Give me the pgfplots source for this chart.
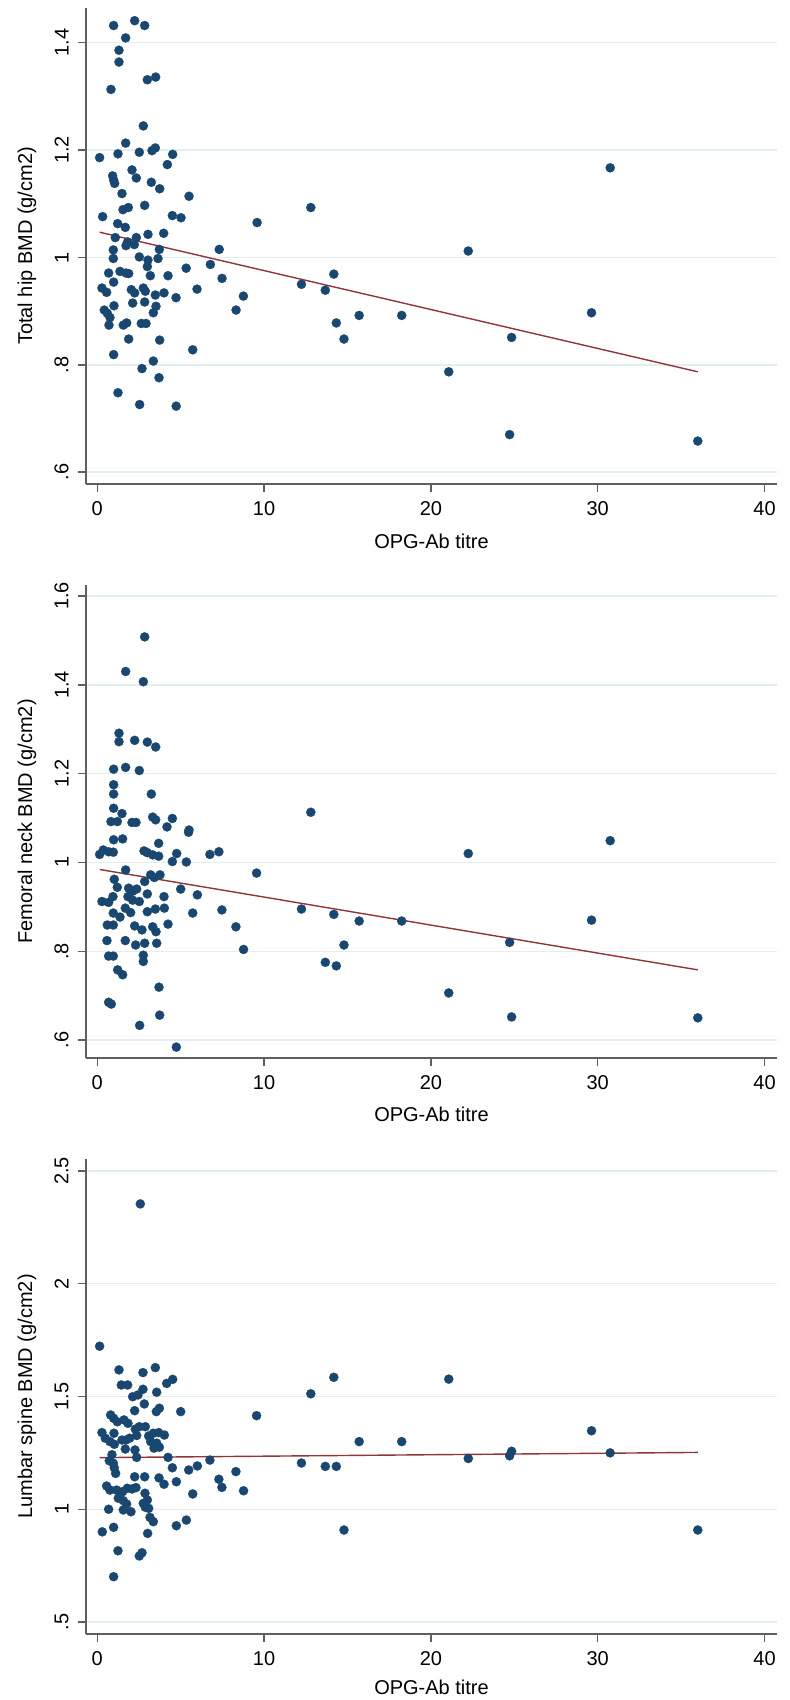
\documentclass[border=0pt]{standalone}
\usepackage{fontspec}
\setmainfont{Liberation Sans}
\usepackage{pgfplots}
\pgfplotsset{compat=1.18}
\definecolor{stnavy}{RGB}{26,71,111}
\definecolor{stmaroon}{RGB}{144,53,59}
\definecolor{stgrid}{RGB}{228,238,240}
\definecolor{staxis}{RGB}{95,95,95}
\pgfplotsset{
  stata/.style={
    scale only axis, width=345.5pt,
    xmin=-0.677, xmax=40.75,
    axis lines=left,
    axis line style={-, staxis, line width=0.7pt},
    tick style={staxis, line width=0.7pt},
    tick align=outside, major tick length=4pt,
    xtick={0,10,20,30,40},
    xticklabels={\textnormal{0},\textnormal{10},\textnormal{20},\textnormal{30},\textnormal{40}},
    /pgf/number format/assume math mode=true,
    ymajorgrids, grid style={stgrid, line width=0.7pt},
    tick label style={font=\fontsize{10}{12}\selectfont, inner sep=0pt, text=black},
    label style={font=\fontsize{10}{12}\selectfont},
    yticklabel style={rotate=90, anchor=south},
    xticklabel style={anchor=north},
    ticklabel shift=4.5pt,
    xlabel={OPG-Ab titre},
    xlabel style={at={(axis description cs:0.5,-0.12)}, anchor=center},
    ylabel style={at={(axis description cs:-0.0854,0.5)}, anchor=center},
  },
  dots/.style={only marks, mark=*, mark size=2.3pt, mark options={fill=stnavy, draw=stnavy, line width=0.1pt}},
  fit/.style={no marks, stmaroon, line width=0.7pt},
}
\begin{document}
\begin{tikzpicture}
\useasboundingbox (0,0) rectangle (395pt,-850pt);
% Panel 1
\begin{axis}[stata, at={(43pt,-242pt)}, anchor=south west, height=238pt,
  ymin=0.578, ymax=1.4647,
  ytick={0.6,0.8,1,1.2,1.4},
  yticklabels={\textnormal{.6},\textnormal{.8},\textnormal{1},\textnormal{1.2},\textnormal{1.4}},
  ylabel={Total hip BMD (g/cm2)}]
\addplot[dots] coordinates {
(0.98,1.432) (2.24,1.441) (2.84,1.432) (1.70,1.409) (1.30,1.386) (1.30,1.364)
(3.00,1.331) (3.50,1.336) (0.82,1.313) (2.76,1.245) (0.14,1.186) (1.24,1.193)
(1.70,1.213) (2.52,1.196) (3.28,1.199) (3.48,1.204) (4.52,1.192) (4.20,1.173)
(2.08,1.163) (2.34,1.148) (0.92,1.152) (0.98,1.144) (1.04,1.138) (3.24,1.140)
(3.74,1.128) (1.48,1.119) (5.50,1.114) (2.84,1.097) (1.54,1.089) (1.86,1.093)
(0.32,1.076) (4.50,1.078) (5.02,1.074) (1.22,1.063) (1.68,1.056) (3.04,1.043)
(3.98,1.045) (1.08,1.037) (2.34,1.037) (1.72,1.022) (2.22,1.024) (1.82,1.029)
(0.96,1.014) (3.72,1.015) (0.96,0.998) (2.52,1.001) (3.04,0.995) (3.64,0.998)
(0.68,0.971) (0.98,0.954) (1.36,0.974) (1.72,0.971) (1.88,0.970) (0.28,0.943)
(0.56,0.935) (2.04,0.940) (2.24,0.934) (2.76,0.943) (2.88,0.937) (3.00,0.983)
(3.18,0.966) (3.48,0.930) (4.00,0.934) (4.24,0.966) (4.72,0.925) (4.73,0.723)
(0.42,0.902) (0.60,0.896) (0.76,0.888) (0.70,0.874) (1.00,0.910) (1.56,0.874)
(1.76,0.878) (2.12,0.915) (2.84,0.917) (2.64,0.877) (2.92,0.877) (3.52,0.909)
(3.36,0.897) (1.88,0.848) (3.74,0.846) (0.98,0.819) (3.36,0.807) (2.68,0.793)
(3.70,0.776) (1.24,0.748) (2.54,0.726)
(12.8,1.093) (9.58,1.065) (7.31,1.015) (22.24,1.012) (5.33,0.980) (6.78,0.987)
(7.48,0.961) (14.18,0.969) (12.24,0.950) (5.98,0.941) (13.67,0.939) (8.76,0.928)
(8.32,0.902) (15.70,0.892) (18.25,0.892) (29.63,0.897) (14.33,0.878) (14.79,0.848)
(24.84,0.851) (5.72,0.828) (21.07,0.787) (24.72,0.670) (36.00,0.658) (30.75,1.167)
};
\addplot[fit] coordinates {(0.14,1.047) (36.0,0.787)};
\end{axis}
% Panel 2
\begin{axis}[stata, at={(43pt,-529pt)}, anchor=south west, height=236.5pt,
  ymin=0.5595, ymax=1.6248,
  ytick={0.6,0.8,1,1.2,1.4,1.6},
  yticklabels={\textnormal{.6},\textnormal{.8},\textnormal{1},\textnormal{1.2},\textnormal{1.4},\textnormal{1.6}},
  ylabel={Femoral neck BMD (g/cm2)}]
\addplot[dots] coordinates {
(2.84,1.508) (1.70,1.430) (2.76,1.407) (1.30,1.291) (1.30,1.272) (2.24,1.275)
(3.00,1.271) (3.50,1.260) (0.98,1.210) (1.70,1.214) (2.52,1.207) (0.98,1.175)
(0.98,1.154) (3.24,1.154) (0.98,1.122) (1.48,1.110) (0.82,1.092) (1.20,1.092)
(2.08,1.090) (2.32,1.090) (3.32,1.102) (3.50,1.096) (4.50,1.099) (4.18,1.080)
(5.50,1.073)
(0.98,1.051) (1.52,1.053) (0.14,1.018) (0.36,1.028) (0.68,1.024) (0.96,1.023)
(2.80,1.026) (3.00,1.022) (3.32,1.017) (3.68,1.043) (3.68,1.014) (4.76,1.020)
(4.50,1.002) (5.34,1.001) (6.75,1.018) (7.29,1.024) (9.55,0.976) (1.70,0.983)
(1.02,0.962) (1.20,0.944) (1.88,0.942) (2.12,0.935) (2.36,0.940) (2.84,0.957)
(3.20,0.972) (3.76,0.972) (3.42,0.966) (5.00,0.940) (6.00,0.927) (0.28,0.912)
(0.68,0.910) (0.94,0.923) (1.84,0.923) (2.12,0.915) (2.52,0.912) (3.00,0.929)
(4.00,0.923) (4.02,0.897) (3.48,0.895) (3.00,0.889) (0.96,0.886) (1.36,0.877)
(1.68,0.897) (2.00,0.887) (5.72,0.886) (7.47,0.893) (0.60,0.859) (0.96,0.859)
(2.24,0.857) (2.68,0.848) (3.32,0.855) (3.52,0.844) (4.24,0.861) (8.31,0.855)
(0.58,0.824) (1.68,0.824) (2.30,0.814) (2.84,0.818) (3.56,0.818) (8.77,0.804)
(0.68,0.789) (0.96,0.789) (2.76,0.791) (2.76,0.777) (1.22,0.758) (1.52,0.747)
(3.70,0.719) (0.68,0.685) (0.84,0.681) (3.74,0.656) (2.54,0.633) (4.74,0.584)
(12.8,1.113) (5.47,1.068) (22.24,1.020) (30.75,1.049) (12.24,0.895) (14.18,0.883)
(15.70,0.868) (18.25,0.868) (29.63,0.870) (14.79,0.814) (24.72,0.820) (13.67,0.775)
(14.33,0.767) (21.07,0.706) (24.84,0.652) (36.00,0.650)
};
\addplot[fit] coordinates {(0.16,0.984) (36.0,0.758)};
\end{axis}
% Panel 3
\begin{axis}[stata, at={(43pt,-817pt)}, anchor=south west, height=237.5pt,
  ymin=0.4468, ymax=2.553,
  ytick={0.5,1,1.5,2,2.5},
  yticklabels={\textnormal{.5},\textnormal{1},\textnormal{1.5},\textnormal{2},\textnormal{2.5}},
  ylabel={Lumbar spine BMD (g/cm2)},
  xlabel style={at={(axis description cs:0.5,-0.113)}, anchor=center}]
\addplot[dots] coordinates {
(2.58,2.354) (0.14,1.723) (1.30,1.618) (2.74,1.606) (3.48,1.628) (1.44,1.551)
(1.82,1.551) (4.16,1.558) (4.52,1.576) (2.12,1.499) (2.44,1.507) (2.74,1.532)
(3.56,1.519)
(2.24,1.437) (2.82,1.467) (3.54,1.433) (3.72,1.448) (5.00,1.433) (9.55,1.415)
(0.80,1.418) (0.98,1.403) (1.20,1.388) (1.60,1.396) (1.84,1.381) (0.28,1.340)
(0.48,1.315) (1.00,1.337) (0.76,1.300) (1.02,1.288) (1.48,1.307) (1.72,1.307)
(1.94,1.315) (2.28,1.355) (2.52,1.366) (2.88,1.366) (2.36,1.327) (3.08,1.325)
(3.36,1.337) (3.68,1.340) (4.02,1.329) (3.20,1.300) (3.56,1.293) (3.40,1.271)
(3.72,1.275) (1.68,1.267) (2.26,1.263) (2.36,1.230) (4.24,1.230) (0.88,1.242)
(0.72,1.215) (0.96,1.204) (1.02,1.184) (1.10,1.159) (4.50,1.184) (5.48,1.174)
(6.00,1.192) (6.75,1.218) (8.31,1.167) (2.24,1.144) (2.84,1.144) (3.70,1.139)
(4.00,1.111) (4.74,1.122) (7.29,1.133) (7.47,1.097) (8.77,1.082) (0.56,1.103)
(0.76,1.085) (1.16,1.085) (1.52,1.078) (1.80,1.093) (2.08,1.090) (2.32,1.096)
(2.86,1.071) (5.72,1.068) (1.26,1.049) (1.56,1.038) (1.76,1.023) (3.00,1.041)
(2.76,1.026) (2.88,1.009) (0.68,1.000) (1.56,0.997) (2.02,0.989) (3.08,1.004)
(3.16,0.964) (3.36,0.945) (5.34,0.952) (4.74,0.927) (0.30,0.900) (0.98,0.920)
(3.02,0.893) (1.24,0.816) (2.52,0.793) (2.68,0.807) (0.98,0.701)
(14.18,1.585) (21.07,1.577) (12.80,1.512) (29.63,1.348) (15.70,1.300) (18.25,1.300)
(24.84,1.257) (24.72,1.237) (30.75,1.250) (22.24,1.225) (12.24,1.205) (13.67,1.190)
(14.33,1.190) (14.79,0.908) (36.00,0.908)
};
\addplot[fit] coordinates {(0.14,1.229) (36.0,1.252)};
\end{axis}
\end{tikzpicture}
\end{document}
